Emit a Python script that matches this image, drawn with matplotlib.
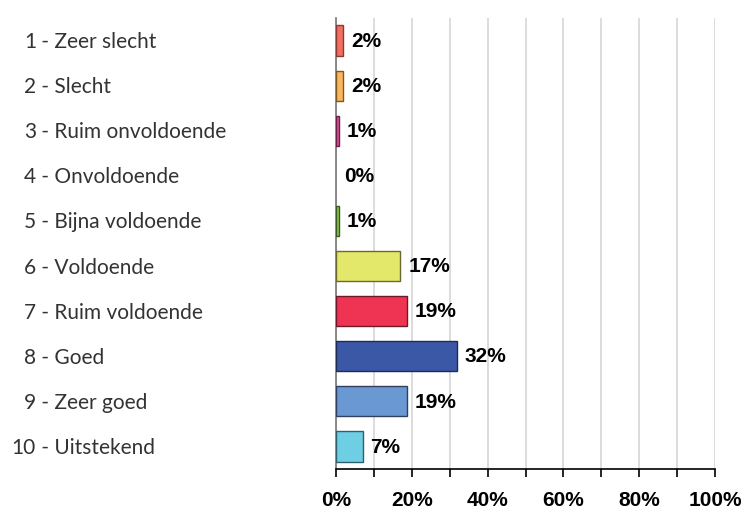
import matplotlib
matplotlib.use("Agg")
import matplotlib.pyplot as plt
from matplotlib.ticker import MultipleLocator, FixedLocator
import matplotlib.transforms as mtransforms

categories = ["1 - Zeer slecht", "2 - Slecht", "3 - Ruim onvoldoende", "4 - Onvoldoende",
              "5 - Bijna voldoende", "6 - Voldoende", "7 - Ruim voldoende", "8 - Goed",
              "9 - Zeer goed", "10 - Uitstekend"]
values = [1.9, 1.9, 0.8, 0.0, 0.8, 17.0, 18.7, 31.8, 18.7, 7.0]
value_labels = ["2%", "2%", "1%", "0%", "1%", "17%", "19%", "32%", "19%", "7%"]
colors = ["#F06E62", "#FDB660", "#E2509A", "#D0D0D0", "#8CC850", "#E4E86A",
          "#EE3452", "#3A58A6", "#6A98D2", "#6ECEE4"]
edge_colors = ["#8A3A30", "#7A5A20", "#6A2048", "#808080", "#3A5A20", "#6A6A30",
               "#6A1A28", "#1E2C55", "#303F60", "#30606A"]
xticks_major = [0, 20, 40, 60, 80, 100]
xtick_labels = ["0%", "20%", "40%", "60%", "80%", "100%"]

W, H, DPI = 747, 507, 100
fig = plt.figure(figsize=(W / DPI, H / DPI), dpi=DPI)
ax = fig.add_axes([336 / W, (H - 469) / H, (715 - 336) / W, (469 - 18) / H])

for i, v in enumerate(values):
    if v > 0:
        ax.barh(i, v, height=0.67, color=colors[i], edgecolor=edge_colors[i],
                linewidth=1.0, zorder=3)

ax.set_xlim(0, 100)
ax.set_ylim(len(categories) - 0.5, -0.5)

ax.xaxis.set_major_locator(FixedLocator(xticks_major))
ax.set_xticklabels(xtick_labels)
ax.xaxis.set_minor_locator(MultipleLocator(10))
ax.grid(axis="x", which="both", color="#d6d6d6", linewidth=1.2, zorder=0)
ax.set_axisbelow(True)
ax.tick_params(axis="x", which="both", direction="out", length=6, width=1.2,
               color="black", pad=10)
ax.tick_params(axis="x", which="major", labelsize=15, labelcolor="black")
for lbl in ax.get_xticklabels():
    lbl.set_fontweight("bold")
    lbl.set_family("Liberation Sans")
ax.set_yticks([])

for s in ["top", "right"]:
    ax.spines[s].set_visible(False)
ax.spines["left"].set_color("#777777")
ax.spines["left"].set_linewidth(1.2)
ax.spines["bottom"].set_color("black")
ax.spines["bottom"].set_linewidth(1.2)

# value labels
for i, (v, t) in enumerate(zip(values, value_labels)):
    ax.annotate(t, xy=(v, i), xytext=(5.8, -0.5), textcoords="offset points",
                ha="left", va="center", fontsize=15, fontweight="bold",
                family="Liberation Sans", color="black")

# category labels: number right-aligned, rest left-aligned
trans = mtransforms.blended_transform_factory(fig.transFigure, ax.transData)
for i, c in enumerate(categories):
    num, rest = c.split(" - ", 1)
    off = mtransforms.offset_copy(trans, fig=fig, x=0, y=-5.4, units="points")
    ax.text(36 / W, i, num, transform=off, ha="right", va="baseline",
            fontsize=15, family="Lato", color="#333333")
    ax.text(36 / W, i, " - " + rest, transform=off, ha="left", va="baseline",
            fontsize=15, family="Lato", color="#333333")

fig.savefig("out.png", dpi=DPI)
